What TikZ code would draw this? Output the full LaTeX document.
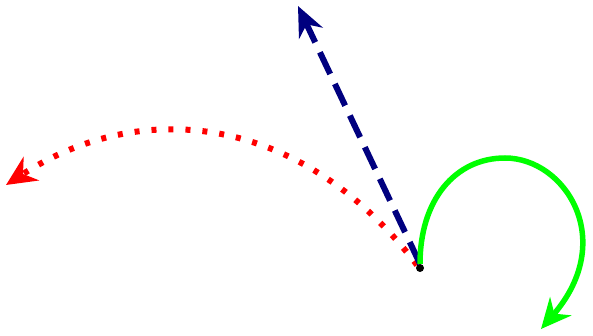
\documentclass[tikz,border=0pt]{standalone}
\usetikzlibrary{arrows.meta}
\definecolor{navyln}{HTML}{00007F}
\definecolor{redln}{HTML}{FF0000}
\definecolor{greenln}{HTML}{00FF00}
\tikzset{
  origin/.style={circle, fill=black, inner sep=0pt, minimum size=8pt},
  blueln/.style={draw=navyln, line width=6pt, dash pattern=on 24pt off 11pt,
                 -{Stealth[length=30pt, width=26pt]}},
  redln/.style={draw=redln, line width=6pt, dash pattern=on 5pt off 12pt,
                -{Stealth[length=30pt, width=28pt]}},
  greenln/.style={draw=greenln, line width=5.5pt,
                  -{Stealth[length=30pt, width=28pt]}},
}

\begin{document}
\begin{tikzpicture}[x=1pt, y=-1pt]
  \useasboundingbox (0,0) rectangle (593,336);
  \node[origin] (o) at (420,268) {};
  \coordinate (blueend) at (298,6);
  \coordinate (redend) at (6,185);
  \coordinate (greentop) at (505,158);
  \coordinate (greenend) at (541,329);
  \draw[redln] (o.north west) .. controls (300,112) and (140,98) .. (redend);
  \draw[blueln] (o.north) -- (blueend);
  \draw[greenln] (o.north) .. controls (420,200) and (455,158) .. (greentop)
    .. controls (565,158) and (618,240) .. (greenend);
\end{tikzpicture}
\end{document}
